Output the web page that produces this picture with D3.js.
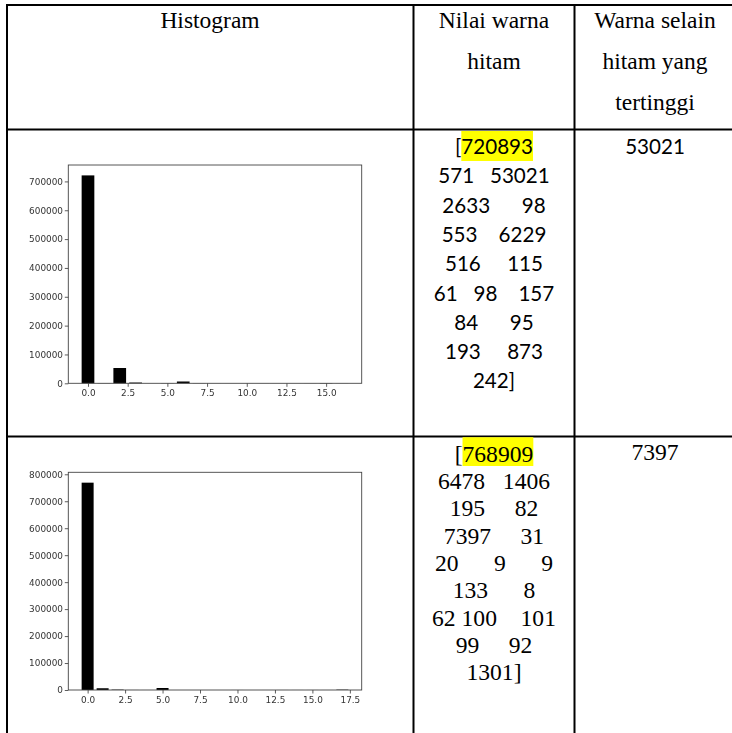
<!DOCTYPE html>
<html>
<head>
<meta charset="utf-8">
<script src="https://cdn.jsdelivr.net/npm/d3@7"></script>
<style>
  html, body { margin: 0; padding: 0; background: #fff; }
  svg { display: block; }
</style>
</head>
<body>
<script>
// Column headers (one entry per wrapped line)
const headerCols = [
  ["Histogram"],
  ["Nilai warna", "hitam"],
  ["Warna selain", "hitam yang", "tertinggi"]
];

// Histogram bin counts for the two images
const counts1 = [720893, 571, 53021, 2633, 98, 553, 6229, 516, 115, 61, 98, 157, 84, 95, 193, 873, 242];
const counts2 = [768909, 6478, 1406, 195, 82, 7397, 31, 20, 9, 9, 133, 8, 62, 100, 101, 99, 92, 1301];

// How the printed array wraps in the cell: values per line and spaces between them
const lineSizes1 = [1, 2, 2, 2, 2, 3, 2, 2, 1];
const lineGaps1 = [[], [3], [6], [4], [5], [3, 4], [6], [5], []];
const lineSizes2 = [1, 2, 2, 2, 3, 2, 3, 2, 1];
const lineGaps2 = [[], [3], [5], [5], [6, 6], [6], [1, 4], [5], []];

// Axis ticks
const yTicks1 = [0, 100000, 200000, 300000, 400000, 500000, 600000, 700000];
const xTicks1 = [0, 2.5, 5, 7.5, 10, 12.5, 15];
const yTicks2 = [0, 100000, 200000, 300000, 400000, 500000, 600000, 700000, 800000];
const xTicks2 = [0, 2.5, 5, 7.5, 10, 12.5, 15, 17.5];

const W = 732, H = 733;
const svg = d3.select("body").append("svg").attr("width", W).attr("height", H);

const defs = svg.append("defs");
defs.append("filter").attr("id", "soft")
  .attr("x", "-5%").attr("y", "-5%").attr("width", "110%").attr("height", "110%")
  .append("feGaussianBlur").attr("stdDeviation", 0.45);

// ---- table frame ----
const tbl = { left: 7, top: 5, col1: 413.5, col2: 574.5, headBottom: 129.5, rowDiv: 436.5 };
const colCenters = [210, 494, 655];
const lines = svg.append("g").attr("stroke", "#000").attr("stroke-width", 2);
lines.append("line").attr("x1", tbl.left).attr("x2", W).attr("y1", tbl.top).attr("y2", tbl.top);
lines.append("line").attr("x1", tbl.left).attr("x2", tbl.left).attr("y1", tbl.top - 1).attr("y2", H);
lines.append("line").attr("x1", tbl.col1).attr("x2", tbl.col1).attr("y1", tbl.top - 1).attr("y2", H);
lines.append("line").attr("x1", tbl.col2).attr("x2", tbl.col2).attr("y1", tbl.top - 1).attr("y2", H);
lines.append("line").attr("x1", tbl.left).attr("x2", W).attr("y1", tbl.headBottom).attr("y2", tbl.headBottom);
lines.append("line").attr("x1", tbl.left).attr("x2", W).attr("y1", tbl.rowDiv).attr("y2", tbl.rowDiv);

// ---- header text ----
const serif = "'Liberation Serif', 'Times New Roman', serif";
headerCols.forEach((col, ci) => {
  col.forEach((t, li) => {
    svg.append("text")
      .attr("x", colCenters[ci]).attr("y", 28 + li * 41)
      .attr("text-anchor", "middle")
      .style("font-family", serif).style("font-size", "23.5px").attr("fill", "#000")
      .text(t);
  });
});

// ---- printed array cell ----
function arrayLines(counts, sizes, gaps) {
  const out = [];
  let k = 0;
  sizes.forEach((n, li) => {
    let s = "";
    for (let j = 0; j < n; j++) {
      if (j > 0) s += " ".repeat(gaps[li][j - 1]);
      s += String(counts[k++]);
    }
    out.push(s);
  });
  out[0] = "[" + out[0];
  out[out.length - 1] = out[out.length - 1] + "]";
  return out;
}

function drawArrayCell(counts, sizes, gaps, opts) {
  const g = svg.append("g");
  const txt = arrayLines(counts, sizes, gaps);
  const hl = g.append("rect").attr("fill", "#ffff00");
  const nodes = txt.map((t, i) =>
    g.append("text")
      .attr("x", colCenters[1]).attr("y", opts.base + i * opts.step)
      .attr("text-anchor", "middle")
      .attr("xml:space", "preserve").style("white-space", "pre")
      .style("font-family", opts.font).style("font-size", opts.size + "px")
      .attr("fill", "#000")
      .text(t)
  );
  // yellow highlight behind the black-pixel count (first value)
  const first = nodes[0].node();
  const nChars = String(counts[0]).length;
  const xs = first.getStartPositionOfChar(1).x;
  const xe = first.getEndPositionOfChar(nChars).x;
  hl.attr("x", xs).attr("width", xe - xs)
    .attr("y", opts.base - opts.hlUp).attr("height", opts.hlUp + opts.hlDown);

  // highest count other than black
  const top = d3.max(counts.slice(1));
  g.append("text")
    .attr("x", colCenters[2]).attr("y", opts.base + opts.sideDy)
    .attr("text-anchor", "middle")
    .style("font-family", opts.font).style("font-size", opts.size + "px")
    .attr("fill", "#000")
    .text(top);
}

drawArrayCell(counts1, lineSizes1, lineGaps1, {
  font: "Lato, 'Open Sans', sans-serif", size: 20.6, base: 154, step: 29.3,
  hlUp: 23, hlDown: 7, sideDy: 0
});
drawArrayCell(counts2, lineSizes2, lineGaps2, {
  font: serif, size: 23.6, base: 461.7, step: 27.3,
  hlUp: 24.5, hlDown: 4.3, sideDy: -1.5
});

// ---- histograms ----
function histogram(counts, yTicks, xTicks, box) {
  const n = counts.length;
  const bw = 0.8;
  const span = (n - 1) + bw;
  const pad = 0.05 * span;
  const x = d3.scaleLinear()
    .domain([-bw / 2 - pad, n - 1 + bw / 2 + pad])
    .range([box.x0, box.x1]);
  const y = d3.scaleLinear()
    .domain([0, d3.max(counts) * 1.05])
    .range([box.y1, box.y0]);

  const g = svg.append("g").attr("filter", "url(#soft)");

  g.append("g").selectAll("rect").data(counts).join("rect")
    .attr("x", (d, i) => x(i - bw / 2))
    .attr("width", (d, i) => x(i + bw / 2) - x(i - bw / 2))
    .attr("y", d => y(d))
    .attr("height", d => y(0) - y(d))
    .attr("fill", "#000");

  const tickFont = "'DejaVu Sans', sans-serif";
  const ya = g.append("g").attr("transform", `translate(${box.x0},0)`)
    .call(d3.axisLeft(y).tickValues(yTicks).tickFormat(d3.format("d"))
      .tickSize(3.5).tickPadding(1.8));
  const xa = g.append("g").attr("transform", `translate(0,${box.y1})`)
    .call(d3.axisBottom(x).tickValues(xTicks).tickFormat(d3.format(".1f"))
      .tickSize(3.5).tickPadding(2.8));
  [ya, xa].forEach(a => {
    a.select(".domain").remove();
    a.selectAll(".tick line").attr("stroke", "#333").attr("stroke-width", 0.8);
    a.selectAll(".tick text").attr("fill", "#333")
      .style("font-family", tickFont).style("font-size", "8.9px");
  });

  g.append("rect")
    .attr("x", box.x0).attr("y", box.y0)
    .attr("width", box.x1 - box.x0).attr("height", box.y1 - box.y0)
    .attr("fill", "none").attr("stroke", "#444").attr("stroke-width", 0.9);
}

histogram(counts1, yTicks1, xTicks1, { x0: 68.3, x1: 361.7, y0: 165, y1: 383.3 });
histogram(counts2, yTicks2, xTicks2, { x0: 68.3, x1: 361.7, y0: 472.3, y1: 690 });
</script>
</body>
</html>
